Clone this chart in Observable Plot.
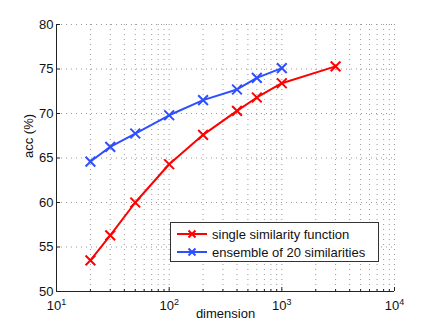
<!DOCTYPE html>
<html><head><meta charset="utf-8">
<script src="https://cdn.jsdelivr.net/npm/d3@7"></script>
<script src="https://cdn.jsdelivr.net/npm/@observablehq/plot@0.6"></script>
<style>
body{margin:0;background:#fff;}
#wrap{position:relative;width:435px;height:327px;font-family:"Liberation Sans",Arial,Helvetica,sans-serif;}
#legend{position:absolute;left:170px;top:222px;width:207px;height:38px;background:#fff;border:1px solid #333;font-size:13px;color:#111;}
#legend .row{position:absolute;left:6px;height:16px;display:flex;align-items:center;white-space:nowrap;}
#legend svg{margin-right:5px;}
</style></head><body><div id="wrap"></div>
<script>
// data
const dimsSingle = [20, 30, 50, 100, 200, 400, 600, 1000, 3000];
const accSingle  = [53.5, 56.3, 60.0, 64.3, 67.6, 70.3, 71.8, 73.4, 75.3];
const dimsEnsemble = [20, 30, 50, 100, 200, 400, 600, 1000];
const accEnsemble  = [64.6, 66.25, 67.75, 69.8, 71.5, 72.7, 74.0, 75.1];
const seriesNames = ["single similarity function", "ensemble of 20 similarities"];
const seriesColors = ["#ff0000", "#2f4fff"];
const xMajorTicks = [10, 100, 1000, 10000];
const yTicks = [50, 55, 60, 65, 70, 75, 80];
const xLabel = "dimension";
const yLabel = "acc (%)";

const xMinorTicks = [];
for (const dec of [10, 100, 1000]) for (let k = 2; k <= 9; k++) xMinorTicks.push(dec * k);

const table = [
  ...dimsSingle.map((d, i) => ({dim: d, acc: accSingle[i], s: seriesNames[0]})),
  ...dimsEnsemble.map((d, i) => ({dim: d, acc: accEnsemble[i], s: seriesNames[1]}))
];

const W = 435, H = 327, mL = 56, mR = 41, mT = 24, mB = 36;
const pW = W - mL - mR, pH = H - mT - mB;
const gridStyle = {stroke: "#999", strokeOpacity: 1, strokeWidth: 1, strokeDasharray: "1,4"};

const chart = Plot.plot({
  width: W, height: H,
  marginLeft: mL, marginRight: mR, marginTop: mT, marginBottom: mB,
  style: {fontFamily: '"Liberation Sans",Arial,Helvetica,sans-serif', fontSize: "13px", color: "#111", background: "#fff"},
  x: {type: "log", domain: [10, 10000], label: null},
  y: {domain: [50, 80], label: null},
  color: {domain: seriesNames, range: seriesColors},
  marks: [
    Plot.gridX([...xMinorTicks, ...xMajorTicks], gridStyle),
    Plot.gridY(yTicks, gridStyle),
    Plot.tickX(xMajorTicks, {x: d => d, insetTop: pH - 4, stroke: "#222"}),
    Plot.tickX(xMinorTicks, {x: d => d, insetTop: pH - 2, stroke: "#222"}),
    Plot.tickY(yTicks, {y: d => d, insetRight: pW - 4, stroke: "#222"}),
    Plot.ruleX([10], {stroke: "#222"}),
    Plot.ruleY([50], {stroke: "#222"}),
    Plot.axisY(yTicks, {tickSize: 0, tickPadding: 3, label: null, fontSize: 13}),
    Plot.axisX(xMajorTicks, {tickSize: 0, tickPadding: 9, label: null, tickFormat: d => String(Math.round(Math.log10(d))), fontSize: 13}),
    Plot.line(table, {x: "dim", y: "acc", z: "s", stroke: "s", strokeWidth: 2}),
    Plot.dot(table, {x: "dim", y: "acc", stroke: "s", symbol: "times", r: 4.5, strokeWidth: 2}),
    Plot.text([xLabel], {frameAnchor: "bottom", dy: 26, fontSize: 13, fill: "#111"}),
    Plot.text([yLabel], {frameAnchor: "left", dx: -28, rotate: -90, fontSize: 13, fill: "#111"})
  ]
});

// render x tick labels as 10 with superscript exponent
d3.select(chart).selectAll('g[aria-label="x-axis tick label"] text').each(function() {
  const t = d3.select(this);
  const e = t.text();
  t.text("");
  t.append("tspan").text("10");
  t.append("tspan").attr("dy", "-0.55em").attr("font-size", "9px").text(e);
});

const wrap = document.getElementById("wrap");
wrap.appendChild(chart);

// legend
const legend = document.createElement("div");
legend.id = "legend";
seriesNames.forEach((name, i) => {
  const row = document.createElement("div");
  row.className = "row";
  row.style.top = (3 + i * 18) + "px";
  const c = seriesColors[i];
  row.innerHTML = `<svg width="30" height="12"><line x1="0" y1="6" x2="30" y2="6" stroke="${c}" stroke-width="2"/><path d="M11.5,2.5L18.5,9.5M18.5,2.5L11.5,9.5" stroke="${c}" stroke-width="2"/></svg><span>${name}</span>`;
  legend.appendChild(row);
});
wrap.appendChild(legend);
</script>
</body></html>
